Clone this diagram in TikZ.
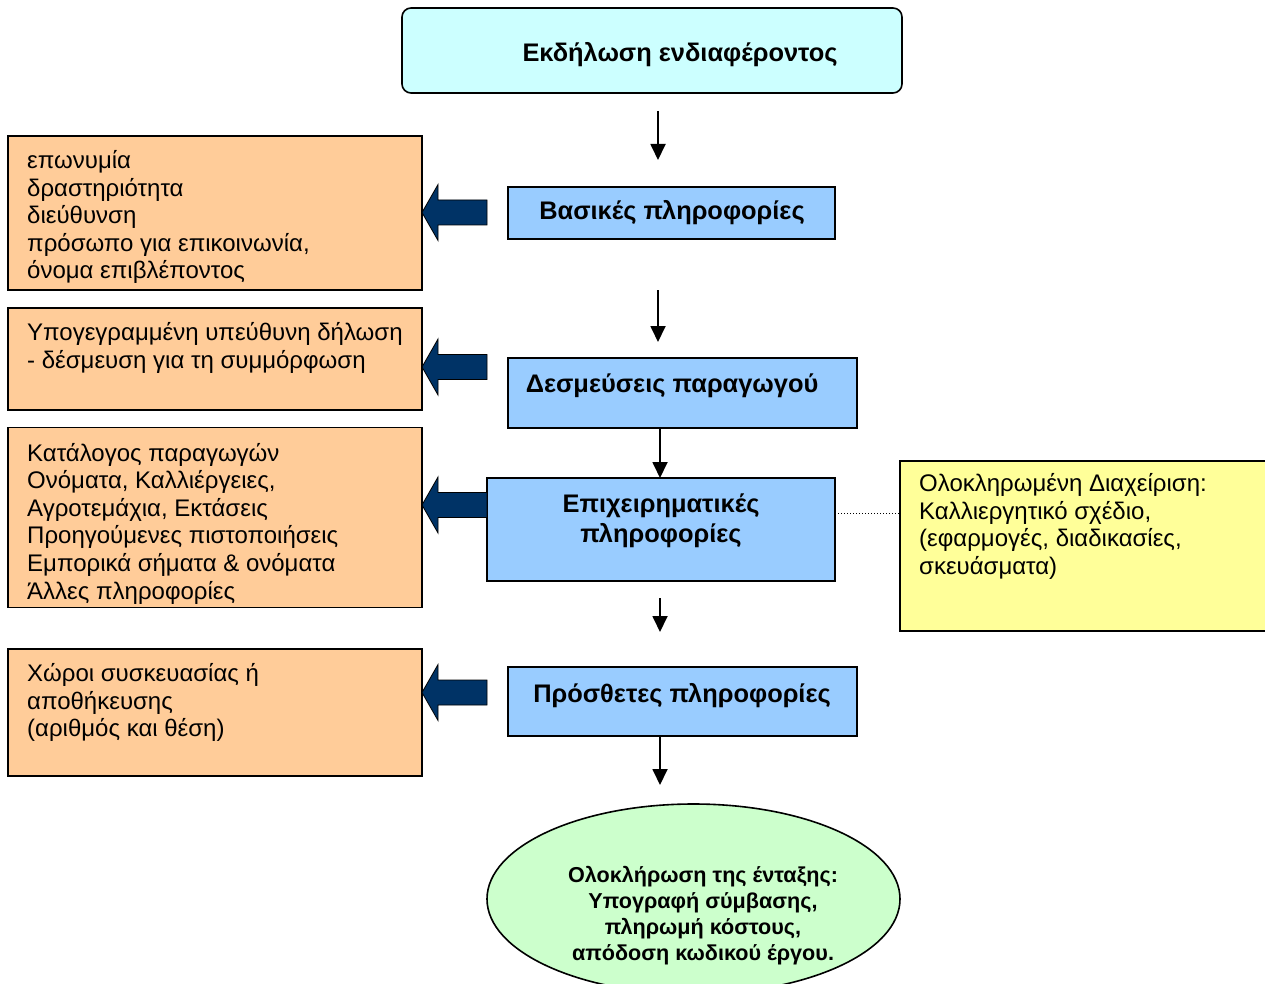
\documentclass[tikz,border=0pt]{standalone}
\usepackage{fontspec}
\setmainfont{Liberation Sans}
\usetikzlibrary{arrows.meta,shapes.geometric}
\definecolor{topc}{HTML}{CCFFFF}
\definecolor{bluec}{HTML}{99CCFF}
\definecolor{orangec}{HTML}{FFCC99}
\definecolor{yellowc}{HTML}{FFFF99}
\definecolor{greenc}{HTML}{CCFFCC}
\definecolor{navyc}{HTML}{003366}
\newcommand{\bodyfont}{\fontsize{24}{27.6}\selectfont}
\newcommand{\titlefont}{\fontsize{25.4}{30}\selectfont\bfseries}
\newcommand{\ellfont}{\fontsize{21.6}{26}\selectfont\bfseries}
\tikzset{
  boxbase/.style={draw=black, line width=1.6pt, inner sep=0pt, outer sep=0pt},
  topbox/.style={boxbase, fill=topc, rounded corners=9pt},
  bluebox/.style={boxbase, fill=bluec},
  orangebox/.style={boxbase, fill=orangec},
  yellowbox/.style={boxbase, fill=yellowc},
  greenell/.style={boxbase, fill=greenc, ellipse},
  bodytext/.style={inner sep=0pt, anchor=north west, align=left, font=\bodyfont},
  titletext/.style={inner sep=0pt, anchor=base, font=\titlefont},
  conn/.style={line width=1.8pt, -{Triangle[width=15pt,length=16pt]}},
  barrow/.pic={\filldraw[fill=navyc, draw=black, line width=0.8pt]
     (0,0) -- (16,-28) -- (16,-12.5) -- (65,-12.5) -- (65,12.5) -- (16,12.5) -- (16,28) -- cycle;}
}
\begin{document}
\begin{tikzpicture}[x=1pt,y=-1pt]
\useasboundingbox (0,0) rectangle (1265,984);
\clip (0,0) rectangle (1265,984);

% top box
\node[topbox, minimum width=500pt, minimum height=85pt] (top) at (652,50.5) {};
\node[titletext] (toptxt) at (680,62) {Εκδήλωση ενδιαφέροντος};

% blue boxes
\node[bluebox, minimum width=327pt, minimum height=52pt] (b1) at (671.5,213) {};
\node[titletext] (b1txt) at (672,220) {Βασικές πληροφορίες};

\node[bluebox, minimum width=349pt, minimum height=70pt] (b2) at (682.5,393) {};
\node[titletext] (b2txt) at (672,392) {Δεσμεύσεις παραγωγού};

\node[bluebox, minimum width=348pt, minimum height=103pt] (b3) at (661,529.5) {};
\node[inner sep=0pt, anchor=north, align=center, font=\titlefont] (b3txt) at (661,491) {\strut Επιχειρηματικές\\πληροφορίες};

\node[bluebox, minimum width=349pt, minimum height=69pt] (b4) at (682.5,701.5) {};
\node[titletext] (b4txt) at (682,702) {Πρόσθετες πληροφορίες};

% left orange boxes
\node[orangebox, minimum width=414pt, minimum height=154pt] (l1) at (215,213) {};
\node[bodytext] (l1txt) at (27,149) {\strut επωνυμία\\δραστηριότητα\\διεύθυνση\\πρόσωπο για επικοινωνία,\\όνομα επιβλέποντος};

\node[orangebox, minimum width=414pt, minimum height=102pt] (l2) at (215,359) {};
\node[bodytext] (l2txt) at (27,321) {\strut Υπογεγραμμένη υπεύθυνη δήλωση\\- δέσμευση για τη συμμόρφωση};

\node[orangebox, minimum width=414pt, minimum height=180pt] (l3) at (215,517.5) {};
\begin{scope}
\clip (9,428) rectangle (421,606.5);
\node[bodytext] (l3txt) at (27,441.5) {\strut Κατάλογος παραγωγών\\Ονόματα, Καλλιέργειες,\\Αγροτεμάχια, Εκτάσεις\\Προηγούμενες πιστοποιήσεις\\Εμπορικά σήματα \& ονόματα\\Άλλες πληροφορίες};
\end{scope}

\node[orangebox, minimum width=414pt, minimum height=127pt] (l4) at (215,712.5) {};
\node[bodytext] (l4txt) at (27,662) {\strut Χώροι συσκευασίας ή\\αποθήκευσης\\(αριθμός και θέση)};

% yellow box
\node[yellowbox, minimum width=380pt, minimum height=170pt] (yb) at (1090,546) {};
\node[bodytext] (ybtxt) at (919,472) {\strut Ολοκληρωμένη Διαχείριση:\\Καλλιεργητικό σχέδιο,\\(εφαρμογές, διαδικασίες,\\σκευάσματα)};

% ellipse
\node[greenell, minimum width=413pt, minimum height=190pt] (el) at (693.5,899) {};
\node[inner sep=0pt, anchor=north, align=center, font=\ellfont] (eltxt) at (703,864) {\strut Ολοκλήρωση της ένταξης:\\Υπογραφή σύμβασης,\\πληρωμή κόστους,\\απόδοση κωδικού έργου.};

% block arrows
\pic at (422,212.5) {barrow};
\pic at (422,367) {barrow};
\pic at (422,505) {barrow};
\pic at (422,692.5) {barrow};

% thin arrows
\coordinate (a1s) at (658,111);
\coordinate (a1e) at (658,160);
\coordinate (a2s) at (658,290);
\coordinate (a2e) at (658,342);
\coordinate (ax) at (660,0);
\coordinate (a4s) at (660,598);
\coordinate (a4e) at (660,632);
\coordinate (a5e) at (660,785);
\draw[conn] (a1s) -- (a1e);
\draw[conn] (a2s) -- (a2e);
\draw[conn] (b2.south -| ax) -- (b3.north -| ax);
\draw[conn] (a4s) -- (a4e);
\draw[conn] (b4.south -| ax) -- (a5e);

% dotted link
\coordinate (dy) at (0,513);
\draw[line width=1pt, dotted] (b3.east |- dy) -- (yb.west |- dy);
\end{tikzpicture}
\end{document}
